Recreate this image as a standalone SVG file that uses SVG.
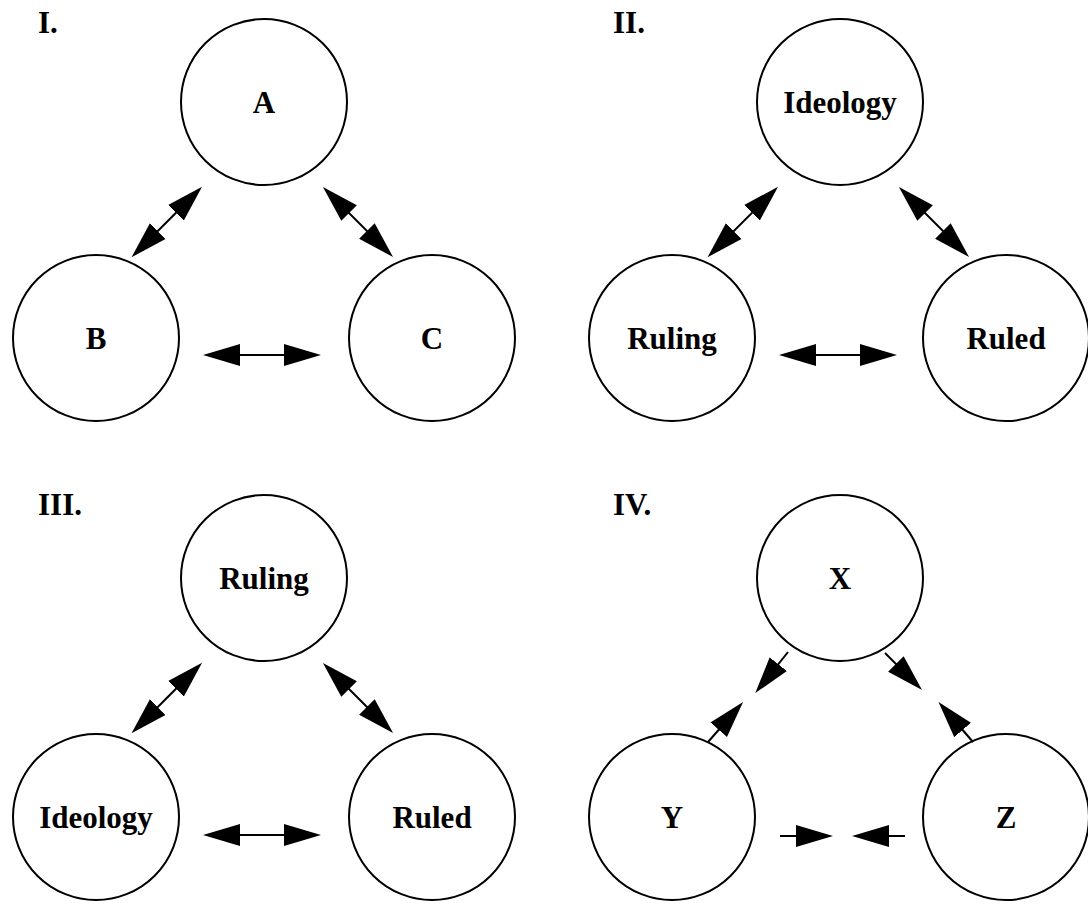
<svg xmlns="http://www.w3.org/2000/svg" width="1088" height="909" viewBox="0 0 1088 909">
<defs>
<style>
.n circle{fill:#fff;stroke:#000;stroke-width:2}
text{font-family:"Liberation Serif","Times New Roman",serif;font-weight:bold;font-size:31px;fill:#000}
.n text{text-anchor:middle}
.c line{stroke:#000;stroke-width:2}
.d{marker-start:url(#h);marker-end:url(#h)}
.s{marker-end:url(#h)}
</style>
<marker id="h" markerUnits="userSpaceOnUse" markerWidth="37" markerHeight="24" viewBox="0 0 37 24" refX="27" refY="12" orient="auto-start-reverse">
<path d="M0,1 L37,12 L0,23 z" fill="#000"/>
</marker>
</defs>
<rect width="1088" height="909" fill="#fff"/>
<text x="38" y="33">I.</text>
<text x="613" y="33">II.</text>
<text x="38" y="515">III.</text>
<text x="613" y="515">IV.</text>

<g id="A" class="n"><circle cx="264" cy="102" r="83"/><text x="264" y="113">A</text></g>
<g id="B" class="n"><circle cx="96" cy="338" r="83"/><text x="96" y="349">B</text></g>
<g id="C" class="n"><circle cx="432" cy="338" r="83"/><text x="432" y="349">C</text></g>

<g id="Ideology2" class="n"><circle cx="840" cy="102" r="83"/><text x="840" y="113">Ideology</text></g>
<g id="Ruling2" class="n"><circle cx="672" cy="338" r="83"/><text x="672" y="349">Ruling</text></g>
<g id="Ruled2" class="n"><circle cx="1006" cy="338" r="83"/><text x="1006" y="349">Ruled</text></g>

<g id="Ruling3" class="n"><circle cx="264" cy="578" r="83"/><text x="264" y="589">Ruling</text></g>
<g id="Ideology3" class="n"><circle cx="96" cy="817" r="83"/><text x="96" y="828">Ideology</text></g>
<g id="Ruled3" class="n"><circle cx="432" cy="817" r="83"/><text x="432" y="828">Ruled</text></g>

<g id="X" class="n"><circle cx="840" cy="578" r="83"/><text x="840" y="589">X</text></g>
<g id="Y" class="n"><circle cx="672" cy="817" r="83"/><text x="672" y="828">Y</text></g>
<g id="Z" class="n"><circle cx="1006" cy="817" r="83"/><text x="1006" y="828">Z</text></g>

<g id="connectors" class="c">
<line class="d" x1="195" y1="193.8" x2="138.6" y2="250.2"/>
<line class="d" x1="330" y1="194" x2="386" y2="250"/>
<line class="d" x1="213" y1="355" x2="311" y2="355"/>

<line class="d" x1="771" y1="193.8" x2="714.6" y2="250.2"/>
<line class="d" x1="906" y1="194" x2="962" y2="250"/>
<line class="d" x1="789" y1="355" x2="887" y2="355"/>

<line class="d" x1="195" y1="669.8" x2="138.6" y2="726.2"/>
<line class="d" x1="330" y1="670" x2="386" y2="726"/>
<line class="d" x1="213" y1="835" x2="311" y2="835"/>

<line class="s" x1="788" y1="652" x2="761.5" y2="685.3"/>
<line class="s" x1="708" y1="742" x2="736.5" y2="709.5"/>
<line class="s" x1="885" y1="653" x2="915" y2="683"/>
<line class="s" x1="973" y1="742" x2="945" y2="709.5"/>
<line class="s" x1="780" y1="836" x2="823" y2="836"/>
<line class="s" x1="905" y1="836" x2="862" y2="836"/>
</g>
</svg>
